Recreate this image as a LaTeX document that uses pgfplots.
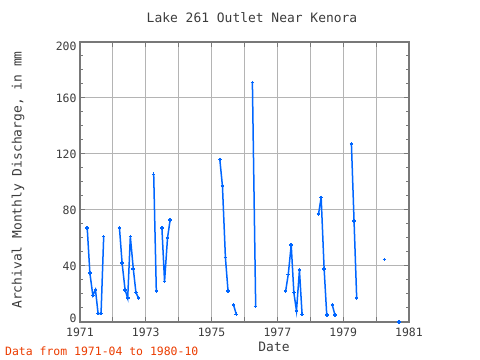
\documentclass[border=0pt]{standalone}
\usepackage{pgfplots}
\usepackage{pgfplotstable}
\pgfplotsset{compat=1.18}
\usepackage{fontspec}
\setmainfont{DejaVu Sans Mono}
\definecolor{lineblue}{RGB}{0,102,255}
\definecolor{framegray}{RGB}{120,120,120}
\definecolor{gridgray}{RGB}{180,180,180}
\definecolor{txtgray}{RGB}{60,60,60}
\definecolor{datared}{RGB}{235,60,0}
\pgfplotstableread{
x y
1971.22 67
1971.30 35
1971.39 19
1971.47 23
1971.55 6
1971.64 6
1971.72 61
1971.90 nan
1972.20 67
1972.28 42
1972.37 23
1972.45 17
1972.53 61
1972.62 38
1972.70 21
1972.78 17
1973.00 nan
1973.24 105.5
1973.32 22
1973.40 nan
1973.49 67
1973.57 29
1973.66 60
1973.74 73
1974.00 nan
1975.25 116
1975.33 97
1975.42 46
1975.50 22
1975.58 nan
1975.67 12
1975.75 5.5
1976.00 nan
1976.24 171
1976.34 11
1977.00 nan
1977.25 22
1977.33 34
1977.42 55
1977.50 21
1977.58 8
1977.67 37
1977.75 5.5
1978.00 nan
1978.25 77
1978.33 89
1978.42 38
1978.50 5
1978.58 nan
1978.67 12
1978.75 5
1979.00 nan
1979.25 127
1979.33 72
1979.41 17
1980.00 nan
1980.25 44.5
1980.40 nan
1980.70 0
}\datatable
\begin{document}
\begin{tikzpicture}
\begin{axis}[
  at={(80bp,38bp)}, anchor=south west,
  scale only axis, width=329bp, height=280bp,
  xmin=1971, xmax=1981, ymin=0, ymax=200,
  xtick={1971,...,1981},
  xticklabels={1971,,1973,,1975,,1977,,1979,,1981},
  minor x tick num=2,
  ytick={0,40,...,200},
  yticklabels={\raisebox{4bp}[8.5bp][0bp]{0},40,80,120,160,\raisebox{-4bp}[8.5bp][0bp]{200}},
  minor y tick num=3,
  grid=major,
  major grid style={gridgray, line width=1bp},
  axis line style={framegray, line width=1.8bp},
  tick style={framegray, line width=1bp},
  major tick length=5bp, minor tick length=3bp,
  tick align=inside,
  ticklabel style={font=\fontsize{11.5}{12}\selectfont, text=txtgray},
  xticklabel style={yshift=-2bp},
  unbounded coords=jump,
]
\addplot[lineblue, line width=1.5bp, mark=+, mark size=1.8bp, mark options={line width=1.5bp}] table[x=x,y=y] {\datatable};
\end{axis}
\node[font=\fontsize{13}{13}\selectfont, text=txtgray] at (252bp,342bp) {Lake 261 Outlet Near Kenora};
\node[rotate=90, font=\fontsize{13}{13}\selectfont, text=txtgray] at (18bp,180bp) {Archival Monthly Discharge, in mm};
\node[font=\fontsize{13}{13}\selectfont, text=txtgray] at (274bp,13bp) {Date};
\node[anchor=base west, font=\fontsize{11.5}{12}\selectfont, text=datared, inner sep=0pt] at (5bp,5bp) {Data from 1971-04 to 1980-10};
\pgfresetboundingbox
\path[use as bounding box] (0,0) rectangle (480bp,360bp);
\end{tikzpicture}
\end{document}
